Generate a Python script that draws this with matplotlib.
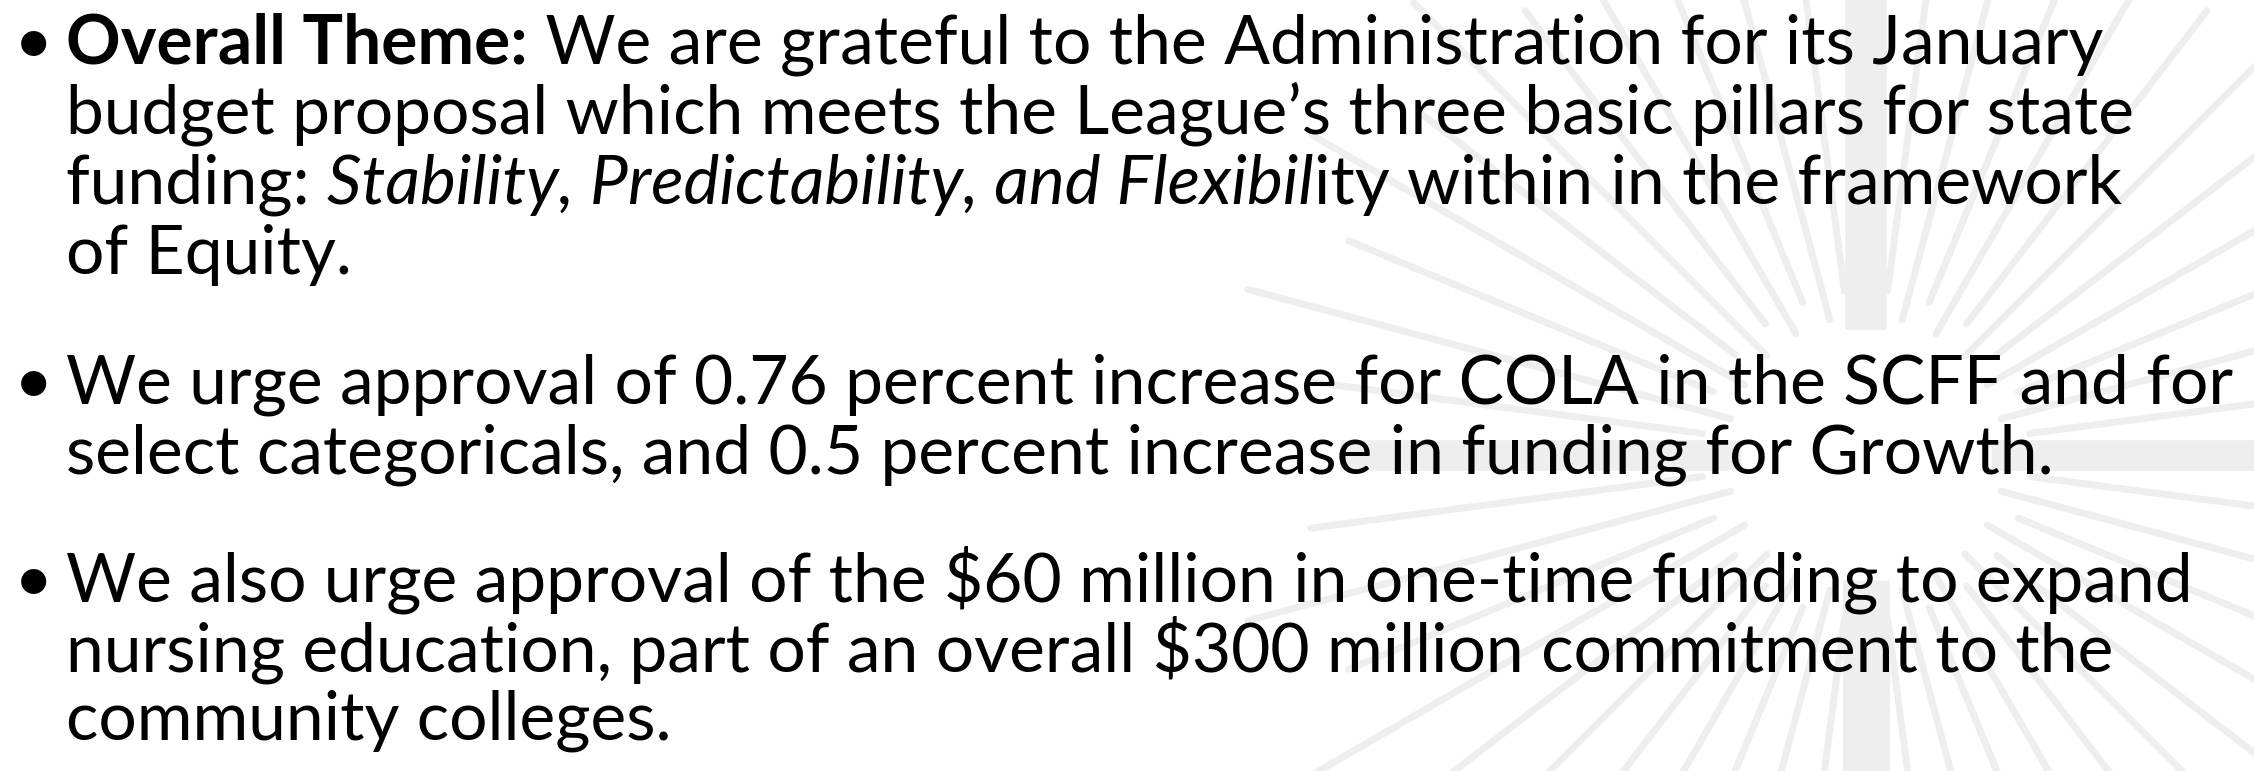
import numpy as np
import matplotlib.pyplot as plt

W, H = 2254, 771
FONT = ["Lato", "DejaVu Sans"]

# slide text: each bullet is a list of lines, each line a list of (text, style) runs
bullet_1 = [
    [("Overall Theme:", "bold"), (" We are grateful to the Administration for its January", "normal")],
    [("budget proposal which meets the League’s three basic pillars for state", "normal")],
    [("funding: ", "normal"), ("Stability, Predictability, and Flexibil", "italic"),
     ("ity within in the framework", "normal")],
    [("of Equity.", "normal")],
]
bullet_2 = [
    [("We urge approval of 0.76 percent increase for COLA in the SCFF and for", "normal")],
    [("select categoricals, and 0.5 percent increase in funding for Growth.", "normal")],
]
bullet_3 = [
    [("We also urge approval of the $60 million in one-time funding to expand", "normal")],
    [("nursing education, part of an overall $300 million commitment to the", "normal")],
    [("community colleges.", "normal")],
]
bullets = [bullet_1, bullet_2, bullet_3]

# baselines (px from top) of each line
baselines = [[64, 134, 204, 274], [404, 473], [602, 671, 740]]

text_left = 66
bullet_left = 14
fit_line = bullet_2[0][0][0]
fit_width = 2165

fig = plt.figure(figsize=(W / 100, H / 100), dpi=100)
fig.patch.set_facecolor("white")
ax = fig.add_axes([0, 0, 1, 1])
ax.set_xlim(0, W)
ax.set_ylim(H, 0)
ax.axis("off")
renderer = fig.canvas.get_renderer()


def text_width(s, fs, kind="normal"):
    # wrap in bars so leading / trailing spaces are counted
    kw = dict(fontsize=fs, family=FONT,
              fontweight="bold" if kind == "bold" else "normal",
              fontstyle="italic" if kind == "italic" else "normal")
    t1 = ax.text(0, 0, "|" + s + "|", **kw)
    t2 = ax.text(0, 0, "||", **kw)
    w = t1.get_window_extent(renderer).width - t2.get_window_extent(renderer).width
    t1.remove()
    t2.remove()
    return w


# background sunburst watermark
cx, cy = 1866, 455
ray_col = "#eeeeee"
ax.plot([cx, cx], [0, cy - 125], color=ray_col, lw=30, solid_capstyle="butt", zorder=0)
ax.plot([cx, cx], [cy + 125, H], color=ray_col, lw=34, solid_capstyle="butt", zorder=0)
ax.plot([1340, cx - 125], [cy, cy], color=ray_col, lw=22, solid_capstyle="butt", zorder=0)
ax.plot([cx + 125, W], [cy, cy], color=ray_col, lw=22, solid_capstyle="butt", zorder=0)
for i, a in enumerate(np.arange(0, 360, 7.5)):
    if min(a % 90, 90 - a % 90) < 5:
        continue
    r1 = 140 + (i % 2) * 25
    r2 = 560 if i % 2 else 640
    t = np.deg2rad(a)
    ax.plot([cx + r1 * np.cos(t), cx + r2 * np.cos(t)],
            [cy + r1 * np.sin(t), cy + r2 * np.sin(t)],
            color=ray_col, lw=5, solid_capstyle="round", zorder=0)

# fit font size so the widest line spans like in the slide
fs = 40 * fit_width / text_width(fit_line, 40)

for para, ys in zip(bullets, baselines):
    ax.text(bullet_left, ys[0], "•", fontsize=fs, family=FONT, va="baseline", ha="left", zorder=2)
    for line, y in zip(para, ys):
        x = text_left
        for s, kind in line:
            ax.text(x, y, s, fontsize=fs, family=FONT, va="baseline", ha="left",
                    fontweight="bold" if kind == "bold" else "normal",
                    fontstyle="italic" if kind == "italic" else "normal",
                    color="black", zorder=2)
            x += text_width(s, fs, kind)

fig.savefig("out.png", dpi=100, facecolor="white")
